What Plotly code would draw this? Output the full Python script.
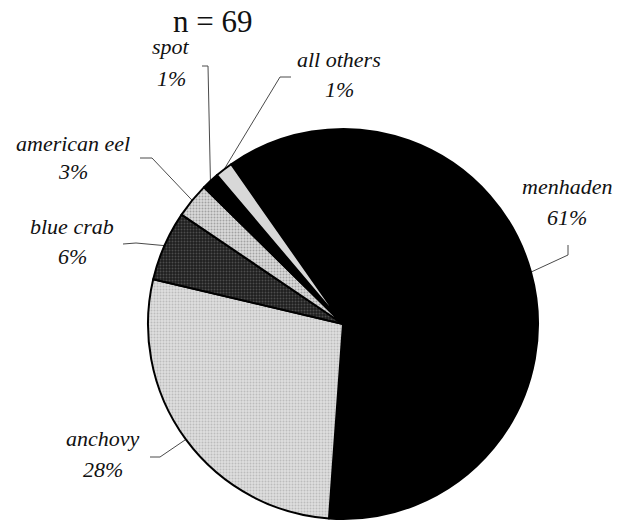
import math
import plotly.graph_objects as go

# Prey items found in stomachs (number of occurrences), n = 69
species = ["menhaden", "anchovy", "blue crab", "american eel", "spot", "all others"]
counts = [42, 19, 4, 2, 1, 1]
title_text = "n = 69"

n_total = sum(counts)
pct_text = [f"{round(100 * c / n_total)}%" for c in counts]

# Slice fills (grayscale print style)
fill_bg = ["#000000", "#dedede", "#1e1e1e", "#dadada", "#000000", "#d8d8d8"]
fill_fg = ["#000000", "#9a9a9a", "#7a7a7a", "#6a6a6a", "#000000", "#d8d8d8"]
fill_shape = ["", ".", ".", ".", "", ""]

W, H = 617, 522
CX, CY, R = 343, 324, 195       # pie centre and radius in pixels
ROTATION = -35                  # start angle of the first slice (deg, clockwise from 12 o'clock)

SERIF = "Liberation Serif"

# Label placement: (centre x, baseline of name, baseline of percentage)
label_pos = {
    "menhaden": (567, 193, 224),
    "anchovy": (103, 445, 476),
    "blue crab": (72, 233, 263),
    "american eel": (73, 150, 178),
    "spot": (171, 53, 85),
    "all others": (339, 66, 96),
}
# Leader-line start points on the label side
leader_start = {
    "menhaden": [(568, 245), (568, 255)],
    "anchovy": [(150, 457), (160, 457)],
    "blue crab": [(123, 244), (136, 243)],
    "american eel": [(140, 158), (152, 158)],
    "spot": [(202, 66), (208, 66)],
    "all others": [(291, 77), (280, 77)],
}

fig = go.Figure()

fig.add_trace(go.Pie(
    labels=species,
    values=counts,
    sort=False,
    direction="clockwise",
    rotation=ROTATION,
    textinfo="none",
    hoverinfo="label+percent",
    showlegend=False,
    marker=dict(
        colors=fill_bg,
        line=dict(color="#000000", width=2),
        pattern=dict(shape=fill_shape, fgcolor=fill_fg, bgcolor=fill_bg,
                     size=3, solidity=0.35, fillmode="overlay"),
    ),
    domain=dict(x=[(CX - R) / W, (CX + R) / W],
                y=[1 - (CY + R) / H, 1 - (CY - R) / H]),
))

# Leader lines: from the label to the outer edge at each slice's mid-angle
cum = 0
for name, c in zip(species, counts):
    mid = ROTATION + 360 * (cum + c / 2) / n_total
    cum += c
    a = math.radians(mid)
    tip = (CX + R * math.sin(a), CY - R * math.cos(a))
    pts = leader_start[name] + [tip]
    fig.add_trace(go.Scatter(
        x=[p[0] for p in pts], y=[p[1] for p in pts],
        mode="lines", line=dict(color="#4a4a4a", width=1),
        hoverinfo="skip", showlegend=False,
    ))

FS = 22
label_font = dict(family=SERIF, size=FS, color="#111111", style="italic")
for name, pct in zip(species, pct_text):
    x, b1, b2 = label_pos[name]
    for txt, base in ((name, b1), (pct, b2)):
        fig.add_annotation(x=x, y=base - 0.3 * FS, xref="x", yref="y",
                           text=txt, showarrow=False, font=label_font,
                           xanchor="center", yanchor="middle")

fig.add_annotation(x=212, y=31 - 0.3 * 31, xref="x", yref="y", text=title_text,
                   showarrow=False, xanchor="center", yanchor="middle",
                   font=dict(family=SERIF, size=31, color="#111111"))

fig.update_layout(
    width=W, height=H,
    margin=dict(l=0, r=0, t=0, b=0),
    font=dict(family=SERIF),
    paper_bgcolor="#ffffff", plot_bgcolor="rgba(0,0,0,0)",
    xaxis=dict(range=[0, W], visible=False, fixedrange=True, domain=[0, 1]),
    yaxis=dict(range=[H, 0], visible=False, fixedrange=True, domain=[0, 1]),
)

fig.write_html("out.html")
